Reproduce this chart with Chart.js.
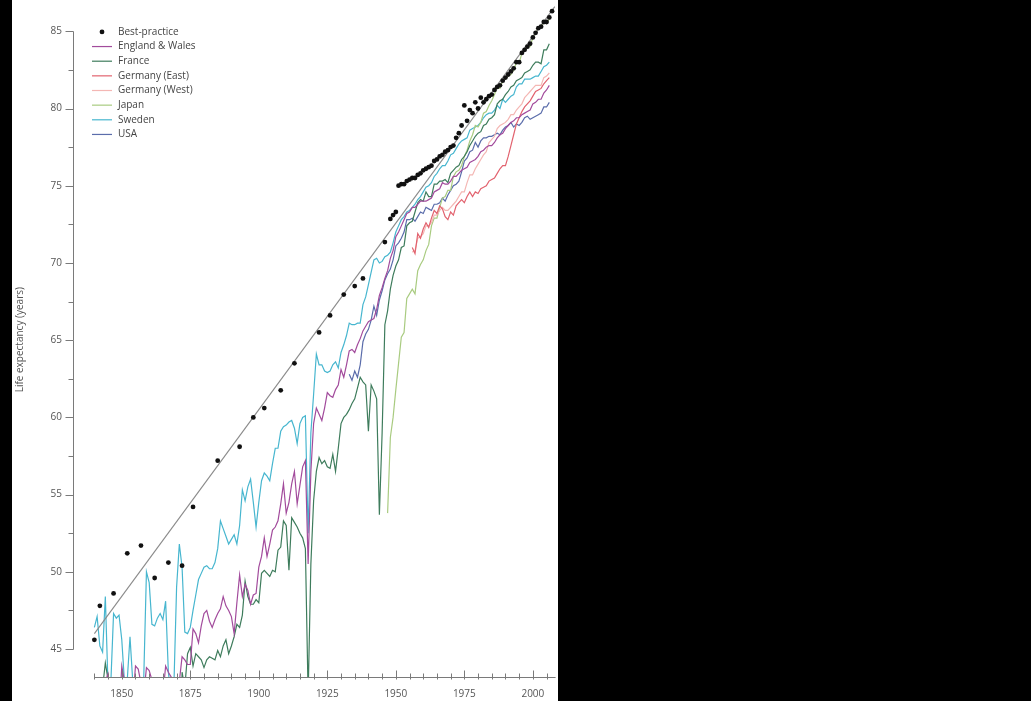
<!DOCTYPE html>
<html><head><meta charset="utf-8">
<script src="https://cdn.jsdelivr.net/npm/chart.js@4.4.1/dist/chart.umd.min.js"></script>
<style>
html,body{margin:0;padding:0;background:#000;width:1031px;height:701px;overflow:hidden}
#wrap{position:absolute;left:12px;top:0;width:546px;height:701px;background:#fff}
canvas{display:block}
</style></head><body>
<div id="wrap"><canvas id="c" width="546" height="701"></canvas></div>
<script>
// ---- data (female life expectancy, years) ----
const bpYears = [1840,1842,1847,1852,1857,1862,1867,1872,1876,1885,1893,1898,1902,1908,1913,1922,1926,1931,1935,1938,1946,1948,1949,1950,
  1951,1952,1953,1954,1955,1956,1957,1958,1959,1960,1961,1962,1963,1964,1965,1966,1967,1968,1969,1970,
  1971,1972,1973,1974,1975,1976,1977,1978,1979,1980,1981,1982,1983,1984,1985,1986,1987,1988,1989,1990,
  1991,1992,1993,1994,1995,1996,1997,1998,1999,2000,2001,2002,2003,2004,2005,2006,2007];
const bpValues = [45.6,47.8,48.6,51.2,51.7,49.6,50.6,50.4,54.2,57.2,58.1,60.0,60.6,61.75,63.5,65.5,66.6,67.95,68.5,69.0,71.35,72.85,73.1,73.3,
  75.0,75.1,75.1,75.3,75.4,75.5,75.5,75.7,75.8,76.0,76.1,76.2,76.3,76.6,76.7,76.9,77.0,77.2,77.3,77.5,
  77.6,78.1,78.4,78.9,80.2,79.2,79.9,79.7,80.4,80.0,80.7,80.4,80.6,80.8,80.9,81.2,81.4,81.5,81.8,82.0,
  82.2,82.4,82.6,83.0,83.0,83.6,83.8,84.0,84.2,84.6,84.9,85.2,85.3,85.6,85.6,85.9,86.3];
const trendYears = [1840, 2008];
const trendValues = [46.0, 86.6];

const ewStart = 1841;
const ewValues = [42.5,42.8,42.6,42.9,43.4,42.0,40.5,41.8,40.5,
  43.9,42.9,42.3,42.0,41.5,43.9,43.7,42.8,42.0,43.8,
  43.6,43.0,43.0,41.9,41.7,42.0,43.9,43.5,43.2,42.8,
  43.1,42.9,44.5,44.3,44.0,44.0,46.3,46.0,45.4,46.5,
  47.3,47.5,46.8,46.4,46.9,47.3,47.6,48.4,47.8,47.5,
  47.1,46.0,48.0,49.8,48.4,49.2,48.8,47.9,48.5,48.6,
  50.3,51.0,52.2,51.0,51.8,52.7,52.9,53.3,54.4,55.7,
  53.8,54.5,55.7,56.5,54.4,55.6,56.8,57.2,50.5,56.5,
  59.6,60.6,60.2,59.8,60.6,61.6,61.4,61.3,61.8,62.1,
  63.1,62.6,63.4,64.3,64.4,64.2,64.7,65.1,65.6,65.9,
  66.2,66.3,66.4,67.0,67.9,68.4,69.0,69.5,70.3,70.8,
  71.7,72.0,72.4,72.8,73.2,73.3,73.6,73.6,73.8,74.0,
  74.0,74.0,74.1,74.2,74.6,74.7,74.8,75.2,75.1,75.1,
  75.3,75.6,75.6,75.8,76.0,76.1,76.2,76.5,76.6,76.7,
  76.9,77.2,77.3,77.5,77.6,77.6,77.8,78.1,78.3,78.4,
  78.7,78.9,79.1,79.2,79.4,79.4,79.6,79.7,79.8,79.9,
  80.3,80.4,80.6,80.6,81.0,81.2,81.5];

const franceStart = 1840;
const franceValues = [41.5,42.0,41.5,42.5,44.1,43.0,41.0,40.5,41.5,38.5,
  42.5,42.0,41.5,41.0,38.0,39.0,41.0,41.0,41.0,38.5,
  43.0,41.5,43.0,43.0,42.5,41.0,42.5,43.0,42.0,42.5,
  36.0,32.0,43.5,42.5,44.7,45.1,43.9,44.7,44.5,44.3,
  43.8,44.3,44.5,44.4,44.3,44.9,44.5,45.2,45.6,44.7,
  45.2,45.8,46.6,46.4,47.2,49.4,48.4,47.9,47.9,48.2,
  48.0,49.9,50.1,49.9,49.7,50.1,50.0,51.4,51.6,53.3,
  53.0,50.1,53.5,53.2,52.9,52.5,52.2,51.5,42.0,50.5,
  54.6,56.5,57.4,57.0,57.2,56.8,56.7,57.6,56.5,58.0,
  59.6,60.0,60.2,60.5,60.9,61.2,61.9,62.6,62.3,62.1,
  59.1,62.1,61.7,61.2,53.7,59.0,66.0,66.9,68.3,69.2,
  69.8,70.2,71.0,71.1,72.4,72.6,72.7,73.3,73.9,74.1,
  74.0,74.6,74.3,74.3,75.1,75.1,75.3,75.3,75.4,75.2,
  75.8,76.0,76.2,76.3,76.7,76.9,77.2,77.6,77.9,78.2,
  78.4,78.5,78.9,79.0,79.3,79.4,79.6,80.3,80.5,80.6,
  80.9,81.1,81.4,81.5,81.8,81.9,82.0,82.3,82.4,82.5,
  82.8,83.0,83.0,82.9,83.8,83.8,84.2];

const gerEastStart = 1956;
const gerEastValues = [71.0,70.6,71.9,71.6,
  72.2,72.6,72.3,72.9,73.4,73.2,73.7,73.5,73.0,72.8,
  73.3,73.1,73.7,73.9,74.1,73.9,74.3,74.6,74.3,74.6,
  74.5,74.8,74.9,75.0,75.3,75.4,75.5,75.8,76.1,76.3,
  76.3,76.9,77.6,78.3,79.0,79.4,79.8,80.1,80.3,80.5,
  80.8,81.1,81.2,81.3,81.6,81.8,82.0];

const gerWestStart = 1956;
const gerWestValues = [70.7,70.8,71.6,71.7,
  71.9,72.4,72.4,72.6,73.1,73.1,73.4,73.6,73.4,73.4,
  73.6,73.8,74.0,74.3,74.6,74.6,75.2,75.7,75.7,76.1,
  76.4,76.7,77.0,77.2,77.8,78.0,78.2,78.7,78.9,79.0,
  79.1,79.3,79.6,79.6,79.9,80.1,80.3,80.7,80.9,81.1,
  81.3,81.5,81.5,81.5,82.0,82.1,82.3];

const japanStart = 1947;
const japanValues = [53.8,58.7,60.0,
  61.8,63.5,65.2,65.5,67.7,68.0,68.3,68.0,69.5,69.9,
  70.2,70.8,71.2,72.4,72.9,72.9,73.6,74.2,74.3,74.7,
  74.7,75.6,75.9,76.0,76.3,76.9,77.3,77.9,78.3,78.9,
  78.8,79.1,79.7,79.8,80.2,80.5,80.9,81.4,81.3,81.8,
  81.9,82.1,82.2,82.5,83.0,82.9,83.6,83.8,84.0,84.0,
  84.6,84.9,85.2,85.3,85.6,85.5,85.8];

const swedenStart = 1840;
const swedenValues = [46.4,47.1,45.2,44.8,48.4,42.5,42.8,47.3,47.0,47.2,
  45.6,42.8,43.0,45.8,42.9,42.5,42.7,42.0,43.0,50.0,
  49.3,46.6,46.5,47.0,47.3,46.9,48.1,43.5,42.0,42.5,
  49.0,51.8,50.3,46.1,46.0,46.4,47.5,48.5,49.5,49.9,
  50.3,50.4,50.2,50.2,50.6,51.5,53.3,52.8,52.3,51.8,
  52.1,52.4,51.8,53.0,55.3,54.6,55.5,56.0,54.5,52.9,
  54.5,55.9,56.4,56.2,55.9,57.0,58.0,58.0,59.1,59.4,
  59.5,59.7,59.8,59.3,58.3,59.6,60.0,60.1,52.5,59.0,
  61.5,64.1,63.4,63.4,63.0,62.9,63.0,63.4,63.6,63.2,
  64.2,64.7,65.3,66.1,66.0,66.0,66.1,66.1,67.3,67.8,
  68.6,69.4,70.2,70.3,70.0,70.1,70.4,70.5,70.7,71.3,
  72.0,72.4,72.8,73.0,73.3,73.4,73.6,73.8,74.1,74.3,
  74.6,74.9,75.0,75.2,75.6,75.8,76.1,76.3,76.3,76.6,
  77.0,77.1,77.4,77.7,77.9,78.0,78.1,78.6,78.7,78.8,
  78.9,79.1,79.4,79.6,79.7,79.7,79.9,80.2,80.0,80.6,
  80.4,80.6,80.8,80.9,81.4,81.6,81.6,81.9,81.9,81.9,
  82.0,82.1,82.1,82.4,82.7,82.8,83.0];

const usaStart = 1933;
const usaValues = [62.8,62.4,63.0,62.6,63.4,64.9,65.4,
  65.7,66.3,67.2,66.6,67.6,68.2,68.9,69.3,69.6,70.2,
  71.1,71.3,71.6,72.0,72.8,72.8,72.9,72.7,73.0,73.3,
  73.2,73.6,73.5,73.4,73.8,73.8,73.9,74.2,74.0,74.4,
  74.7,75.0,75.1,75.3,75.9,76.6,76.8,77.2,77.3,77.8,
  77.5,77.9,78.1,78.1,78.2,78.2,78.3,78.4,78.3,78.6,
  78.8,78.9,79.1,78.8,79.0,78.9,79.1,79.4,79.5,79.3,
  79.4,79.5,79.6,79.7,80.1,80.1,80.4];

const yTickValues = [45,47.5,50,52.5,55,57.5,60,62.5,65,67.5,70,72.5,75,77.5,80,82.5,85];
const xTickYears = [1840,1845,1850,1855,1860,1865,1870,1875,1880,1885,1890,1895,1900,1905,1910,1915,1920,1925,1930,1935,1940,1945,1950,1955,1960,1965,1970,1975,1980,1985,1990,1995,2000,2005];
const xLabelYears = [1850,1875,1900,1925,1950,1975,2000];
const yLabelValues = [45,50,55,60,65,70,75,80,85];

// ---- helpers ----
const seq = (start, vals) => vals.map((v, i) => ({x: start + i, y: v}));
const pairs = (xs, ys) => xs.map((x, i) => ({x: x, y: ys[i]}));

const FONT = '"Open Sans", "DejaVu Sans", sans-serif';
const TXT = '#555';
const AX = '#7a7a7a';

function lineDs(label, data, color) {
  return {label, data, borderColor: color, backgroundColor: color, borderWidth: 1.2,
    pointRadius: 0, tension: 0, fill: false, legendType: 'line'};
}

const datasets = [
  {label: 'Best-practice', data: pairs(bpYears, bpValues), showLine: false,
   pointRadius: 2.4, pointHoverRadius: 2.4, pointBackgroundColor: '#111', pointBorderWidth: 0,
   borderColor: '#111', backgroundColor: '#111', legendType: 'dot'},
  {label: '_trend', data: pairs(trendYears, trendValues), borderColor: '#8a8a8a', borderWidth: 1.1,
   pointRadius: 0, fill: false, legendType: 'none'},
  lineDs('England & Wales', seq(ewStart, ewValues), '#a24b9c'),
  lineDs('France', seq(franceStart, franceValues), '#3e7c5c'),
  lineDs('Germany (East)', seq(gerEastStart, gerEastValues), '#e2636f'),
  lineDs('Germany (West)', seq(gerWestStart, gerWestValues), '#f4b7b4'),
  lineDs('Japan', seq(japanStart, japanValues), '#a9cb80'),
  lineDs('Sweden', seq(swedenStart, swedenValues), '#47b6cf'),
  lineDs('USA', seq(usaStart, usaValues), '#5b6dab')
];

const decorPlugin = {
  id: 'decor',
  afterDraw(chart) {
    const ctx = chart.ctx, xs = chart.scales.x, ys = chart.scales.y, a = chart.chartArea;
    ctx.save();
    ctx.strokeStyle = AX; ctx.lineWidth = 1;
    // y axis line (45..85) and ticks
    const yx = Math.round(a.left) + 0.5;
    ctx.beginPath();
    ctx.moveTo(yx, Math.round(ys.getPixelForValue(85)) + 0.5);
    ctx.lineTo(yx, Math.round(ys.getPixelForValue(45)) + 0.5);
    yTickValues.forEach(v => {
      const py = Math.round(ys.getPixelForValue(v)) + 0.5;
      const len = (v % 5 === 0) ? 8 : 5;
      ctx.moveTo(yx - len, py); ctx.lineTo(yx, py);
    });
    ctx.stroke();
    // x axis line and ticks
    const xy = Math.round(a.bottom) + 0.5;
    ctx.beginPath();
    ctx.moveTo(Math.round(xs.getPixelForValue(1840)) + 0.5, xy);
    ctx.lineTo(a.right, xy);
    xTickYears.forEach(yr => {
      const px = Math.round(xs.getPixelForValue(yr)) + 0.5;
      const len = (yr % 25 === 0) ? 7 : 4;
      ctx.moveTo(px, xy - len); ctx.lineTo(px, xy + 2);
    });
    ctx.stroke();
    // legend
    ctx.font = '10px ' + FONT;
    ctx.textBaseline = 'middle';
    ctx.textAlign = 'left';
    let row = 0;
    chart.data.datasets.forEach(ds => {
      if (ds.legendType === 'none') return;
      const cy = a.top + 29.5 + row * 14.65;
      const x0 = a.left + 19, x1 = a.left + 39;
      if (ds.legendType === 'dot') {
        ctx.fillStyle = '#111';
        ctx.beginPath(); ctx.arc((x0 + x1) / 2, cy, 2.4, 0, Math.PI * 2); ctx.fill();
      } else {
        ctx.strokeStyle = ds.borderColor; ctx.lineWidth = 1.2;
        ctx.beginPath(); ctx.moveTo(x0, cy); ctx.lineTo(x1, cy); ctx.stroke();
      }
      ctx.fillStyle = '#444';
      ctx.fillText(ds.label, a.left + 45, cy);
      row++;
    });
    ctx.restore();
  }
};

new Chart(document.getElementById('c'), {
  type: 'line',
  data: {datasets},
  options: {
    responsive: false, animation: false, devicePixelRatio: 1,
    layout: {padding: 0},
    plugins: {legend: {display: false}, tooltip: {enabled: false}},
    scales: {
      x: {type: 'linear', min: 1832.2, max: 2008.3,
        border: {display: false}, grid: {display: false, drawTicks: false},
        afterBuildTicks: s => { s.ticks = xTickYears.map(v => ({value: v})); },
        afterFit: s => { s.height = 24; s.paddingLeft = 0; s.paddingRight = 0; },
        ticks: {autoSkip: false, maxRotation: 0, padding: 11, color: TXT,
          font: {size: 10, family: FONT},
          callback: v => xLabelYears.includes(v) ? String(v) : ''}
      },
      y: {type: 'linear', min: 43.19, max: 86.87,
        border: {display: false}, grid: {display: false, drawTicks: false},
        afterBuildTicks: s => { s.ticks = yTickValues.map(v => ({value: v})); },
        afterFit: s => { s.width = 61; s.paddingTop = 0; s.paddingBottom = 0; },
        ticks: {autoSkip: false, padding: 11, color: TXT, font: {size: 10, family: FONT},
          callback: v => yLabelValues.includes(v) ? String(v) : ''},
        title: {display: true, text: 'Life expectancy (years)', color: TXT,
          font: {size: 10, family: FONT}, padding: {top: 2, bottom: 0}}
      }
    }
  },
  plugins: [decorPlugin]
});
</script>
</body></html>
